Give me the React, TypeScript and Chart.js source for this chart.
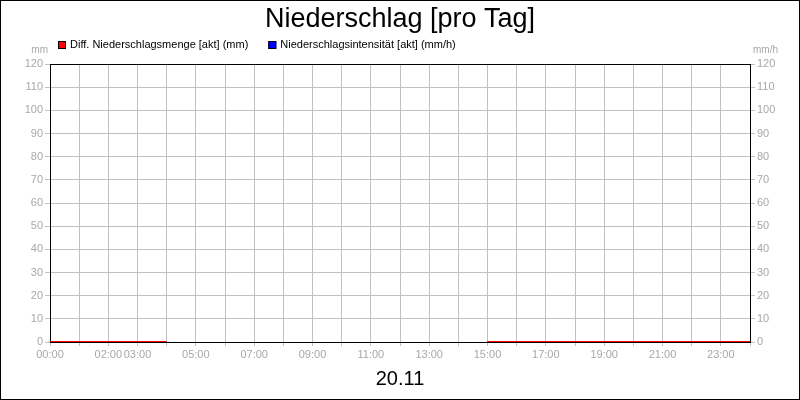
import React, { useEffect, useRef } from "react";
import { Chart, registerables } from "chart.js";

Chart.register(...registerables);

const chartTitle = "Niederschlag [pro Tag]";
const dateLabel = "20.11";
const leftUnit = "mm";
const rightUnit = "mm/h";
const seriesNames = [
  "Diff. Niederschlagsmenge [akt] (mm)",
  "Niederschlagsintensität [akt] (mm/h)",
];
const seriesColors = ["#ff0000", "#0000ff"];

const hours = [0, 1, 2, 3, 4, 5, 6, 7, 8, 9, 10, 11, 12, 13, 14, 15, 16, 17, 18, 19, 20, 21, 22, 23, 24];
const labeledHours = [0, 2, 3, 5, 7, 9, 11, 13, 15, 17, 19, 21, 23];

const niederschlagsmenge: (number | null)[] = [
  0, 0, 0, 0, 0,
  null, null, null, null, null, null, null, null, null, null,
  0, 0, 0, 0, 0, 0, 0, 0, 0, 0,
];
const niederschlagsintensitaet: (number | null)[] = [
  0, 0, 0, 0, 0,
  null, null, null, null, null, null, null, null, null, null,
  0, 0, 0, 0, 0, 0, 0, 0, 0, 0,
];

const yMin = 0;
const yMax = 120;
const yStep = 10;

const FONT = "Arial, 'Liberation Sans', sans-serif";
const GRID = "#c0c0c0";
const LABEL = "#a8a8a8";

const pad2 = (n: number) => (n < 10 ? "0" + n : "" + n);

const decorPlugin = {
  id: "decor",
  beforeDatasetsDraw(chart: any) {
    const { ctx, chartArea: a } = chart;
    ctx.save();
    ctx.strokeStyle = "#000";
    ctx.lineWidth = 1;
    ctx.strokeRect(
      Math.round(a.left) + 0.5,
      Math.round(a.top) + 0.5,
      Math.round(a.right - a.left),
      Math.round(a.bottom - a.top)
    );
    ctx.restore();
  },
  afterDraw(chart: any) {
    const { ctx, width, height } = chart;
    ctx.save();
    // outer frame
    ctx.strokeStyle = "#000";
    ctx.lineWidth = 1;
    ctx.strokeRect(0.5, 0.5, width - 1, height - 1);

    // legend
    ctx.font = `11px ${FONT}`;
    ctx.textBaseline = "alphabetic";
    ctx.textAlign = "left";
    let x = 58;
    chart.data.datasets.forEach((ds: any) => {
      ctx.fillStyle = ds.borderColor;
      ctx.fillRect(x, 41, 8, 8);
      ctx.strokeStyle = "#000";
      ctx.strokeRect(x + 0.5, 41.5, 7, 7);
      ctx.fillStyle = "#000";
      ctx.fillText(ds.label, x + 12, 48);
      x += 12 + ctx.measureText(ds.label).width + 20;
    });

    // units
    ctx.font = `10px ${FONT}`;
    ctx.fillStyle = LABEL;
    ctx.textAlign = "right";
    ctx.fillText(leftUnit, 48, 53);
    ctx.textAlign = "left";
    ctx.fillText(rightUnit, 753, 53);
    ctx.restore();
  },
};

export default function App() {
  const canvasRef = useRef<HTMLCanvasElement | null>(null);

  useEffect(() => {
    if (!canvasRef.current) return;
    const chart = new Chart(canvasRef.current, {
      type: "line",
      data: {
        datasets: [
          {
            label: seriesNames[0],
            data: hours.map((h, i) => ({ x: h, y: niederschlagsmenge[i] })) as any,
            borderColor: seriesColors[0],
            backgroundColor: seriesColors[0],
            borderWidth: 2,
            pointRadius: 0,
            spanGaps: false,
            yAxisID: "y",
            order: 0,
          },
          {
            label: seriesNames[1],
            data: hours.map((h, i) => ({ x: h, y: niederschlagsintensitaet[i] })) as any,
            borderColor: seriesColors[1],
            backgroundColor: seriesColors[1],
            borderWidth: 2,
            pointRadius: 0,
            spanGaps: false,
            yAxisID: "y2",
            order: 1,
          },
        ],
      },
      options: {
        animation: false,
        responsive: false,
        devicePixelRatio: 1,
        layout: { padding: 0 },
        plugins: {
          legend: { display: false },
          tooltip: { enabled: false },
          title: {
            display: true,
            text: chartTitle,
            color: "#000",
            font: { family: FONT, size: 27, weight: "normal", lineHeight: 1.2 },
            padding: { top: 3, bottom: 28.6 },
          },
        },
        scales: {
          x: {
            type: "linear",
            min: 0,
            max: 24,
            afterFit(scale: any) {
              scale.height = 58;
            },
            ticks: {
              stepSize: 1,
              autoSkip: false,
              maxRotation: 0,
              padding: 2,
              color: LABEL,
              font: { family: FONT, size: 11 },
              callback: (v: any) => (labeledHours.includes(Number(v)) ? pad2(Number(v)) + ":00" : ""),
            },
            grid: { color: GRID, tickLength: 4, lineWidth: 1 },
            border: { color: "#000", width: 1 },
            title: {
              display: true,
              text: dateLabel,
              color: "#000",
              font: { family: FONT, size: 20, lineHeight: 1.2 },
              padding: { top: 0, bottom: 9 },
            },
          },
          y: {
            position: "left",
            min: yMin,
            max: yMax,
            afterFit(scale: any) {
              scale.width = 50;
            },
            ticks: {
              stepSize: yStep,
              padding: 2,
              color: LABEL,
              font: { family: FONT, size: 11 },
            },
            grid: { color: GRID, tickLength: 5, lineWidth: 1 },
            border: { color: "#000", width: 1 },
          },
          y2: {
            position: "right",
            min: yMin,
            max: yMax,
            afterFit(scale: any) {
              scale.width = 50;
            },
            ticks: {
              stepSize: yStep,
              padding: 2,
              color: LABEL,
              font: { family: FONT, size: 11 },
            },
            grid: { color: GRID, tickLength: 5, lineWidth: 1, drawOnChartArea: false },
            border: { color: "#000", width: 1 },
          },
        },
      },
      plugins: [decorPlugin],
    });
    return () => chart.destroy();
  }, []);

  return (
    <div style={{ position: "absolute", left: 0, top: 0, width: 800, height: 400, background: "#fff" }}>
      <canvas ref={canvasRef} width={800} height={400} style={{ display: "block" }} />
    </div>
  );
}
